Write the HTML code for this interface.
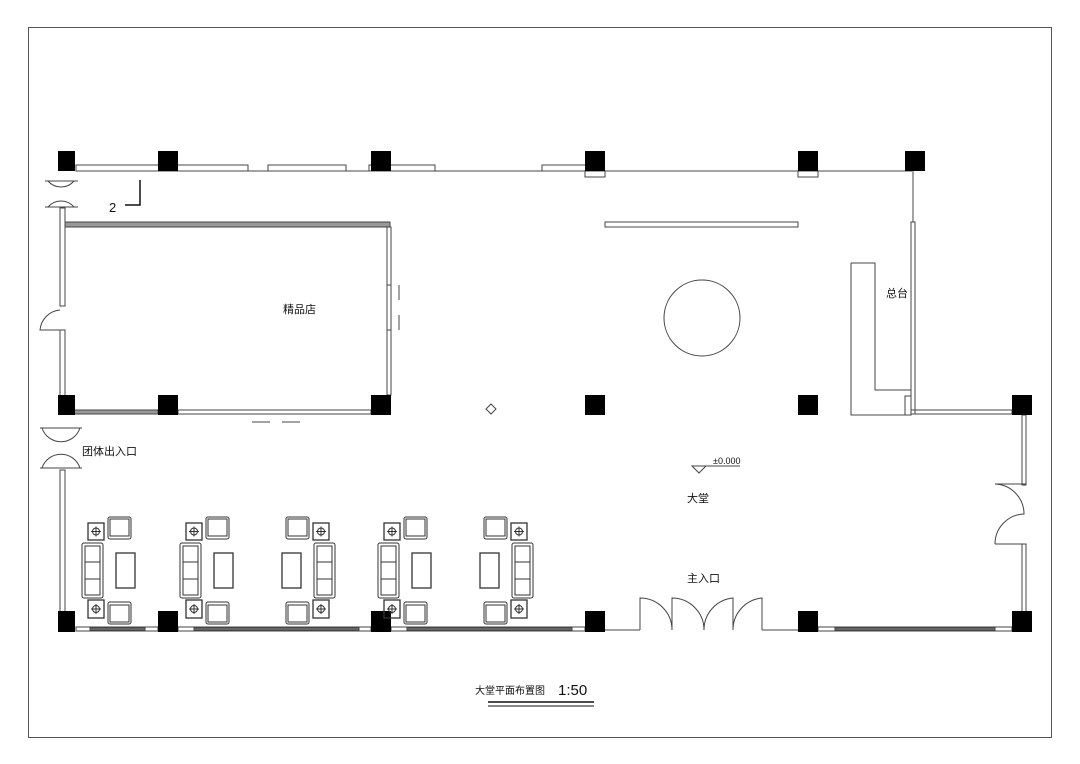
<!DOCTYPE html>
<html><head><meta charset="utf-8"><style>
html,body{margin:0;padding:0;background:#fff;}
svg{display:block;}
text{font-family:"Liberation Sans","Noto Sans CJK SC",sans-serif;fill:#111;}
</style></head><body>
<svg width="1080" height="764" viewBox="0 0 1080 764" xmlns="http://www.w3.org/2000/svg">
<defs>
<g id="grp" fill="none" stroke="#333" stroke-width="1">
  <rect x="0" y="43" width="21" height="55" rx="2"/>
  <rect x="3" y="46" width="15" height="49"/>
  <line x1="3" y1="62" x2="18" y2="62"/><line x1="3" y1="79" x2="18" y2="79"/>
  <rect x="34" y="53" width="19" height="35" stroke-width="1.3"/>
  <rect x="6" y="23" width="16" height="17" stroke-width="1.3"/>
  <rect x="6" y="100" width="16" height="18" stroke-width="1.3"/>
  <circle cx="14" cy="31.5" r="3.5"/><line x1="9" y1="31.5" x2="19" y2="31.5"/><line x1="14" y1="26.5" x2="14" y2="36.5"/>
  <circle cx="14" cy="109" r="3.5"/><line x1="9" y1="109" x2="19" y2="109"/><line x1="14" y1="104" x2="14" y2="114"/>
  <rect x="26" y="17" width="23" height="22" rx="2"/><rect x="28" y="19" width="19" height="17"/>
  <rect x="26" y="102" width="23" height="22" rx="2"/><rect x="28" y="105" width="19" height="17"/>
</g>
</defs>
<rect x="28.5" y="27.5" width="1023" height="710" fill="none" stroke="#555" stroke-width="1"/>

<g fill="none" stroke="#444" stroke-width="1">
<!-- top wall -->
<line x1="76" y1="171" x2="912" y2="171"/>
<rect x="76" y="165" width="172" height="6"/>
<rect x="268" y="165" width="78" height="6"/>
<rect x="369" y="165" width="66" height="6"/>
<rect x="542" y="165" width="50" height="6"/>
<rect x="585" y="171" width="20" height="6"/>
<rect x="798" y="171" width="20" height="6"/>
<!-- left wall -->
<rect x="60" y="208" width="5" height="98"/>
<rect x="60" y="330" width="5" height="66"/>
<rect x="60" y="470" width="5" height="142"/>
<path d="M60 310 A22 22 0 0 0 40 330 L60 330"/>
<path d="M48 181 A17 17 0 0 0 74 181 M48 207 A17 17 0 0 1 74 207 M45 181 L78 181 M45 207 L78 207"/>
<path d="M42 428 A20 20 0 0 0 80 428 M42 468 A20 20 0 0 1 80 468 M40 428 L82 428 M40 468 L82 468"/>
<!-- shop -->
<rect x="65" y="222" width="325" height="5" fill="#999"/>
<rect x="387" y="227" width="4" height="168"/>
<rect x="387" y="285" width="4" height="45" fill="#fff"/>
<rect x="65" y="410" width="93" height="4" fill="#999"/>
<rect x="178" y="410" width="193" height="4"/>
<path d="M399 285 L399 300 M399 315 L399 330"/>
<path d="M252 422 L270 422 M282 422 L300 422"/>
<!-- bar & circle -->
<rect x="605" y="222" width="193" height="5"/>
<circle cx="702" cy="318" r="38"/>
<!-- reception -->
<line x1="913" y1="171" x2="913" y2="222"/>
<rect x="911" y="222" width="4" height="192"/>
<rect x="911" y="410" width="101" height="4"/>
<path d="M851 263 L875 263 L875 390 L911 390 M851 263 L851 415 L911 415 M905 396 L911 396 L911 415 L905 415 Z"/>
<!-- right wall -->
<rect x="1022" y="415" width="4" height="70"/>
<rect x="1022" y="544" width="4" height="68"/>
<path d="M995 484 L1026 484 M995 544 L1026 544 M995 484 A30 30 0 0 1 1024 514 A30 30 0 0 0 995 544"/>
<!-- bottom wall -->
<rect x="76" y="627" width="82" height="4"/><rect x="90" y="628" width="55" height="2" fill="#888"/>
<rect x="178" y="627" width="193" height="4"/><rect x="194" y="628" width="165" height="2" fill="#888"/>
<rect x="391" y="627" width="194" height="4"/><rect x="407" y="628" width="165" height="2" fill="#888"/>
<path d="M605 630 L640 630 M762 630 L798 630"/>
<rect x="818" y="627" width="194" height="4"/><rect x="835" y="628" width="160" height="2" fill="#888"/>
<path d="M640 630 L640 598 A32 32 0 0 1 672 630 L672 598 A32 32 0 0 1 704 630 M704 630 A32 32 0 0 1 733 598 L733 630 A32 32 0 0 1 762 598 L762 630"/>
<!-- elevation -->
<path d="M692 466 L706 466 L699 473 Z M706 466 L740 466"/>
<!-- centre mark -->
<path d="M491 404 L496 409 L491 414 L486 409 Z"/>
<!-- section mark -->
<path d="M140 180 L140 205 L125 205" stroke="#111" stroke-width="1.5"/>
<!-- title underline -->
<line x1="488" y1="702" x2="594" y2="702" stroke="#111" stroke-width="1.5"/>
<line x1="488" y1="706" x2="594" y2="706" stroke="#111" stroke-width="1"/>
</g>

<!-- columns -->
<g fill="#000">
<rect x="58" y="151" width="17" height="20"/><rect x="158" y="151" width="20" height="20"/><rect x="371" y="151" width="20" height="20"/><rect x="585" y="151" width="20" height="20"/><rect x="798" y="151" width="20" height="20"/><rect x="905" y="151" width="20" height="20"/>
<rect x="58" y="395" width="17" height="20"/><rect x="158" y="395" width="20" height="20"/><rect x="371" y="395" width="20" height="20"/><rect x="585" y="395" width="20" height="20"/><rect x="798" y="395" width="20" height="20"/><rect x="1012" y="395" width="20" height="20"/>
<rect x="58" y="611" width="17" height="21"/><rect x="158" y="611" width="20" height="21"/><rect x="371" y="611" width="20" height="21"/><rect x="585" y="611" width="20" height="21"/><rect x="798" y="611" width="20" height="21"/><rect x="1012" y="611" width="20" height="21"/>
</g>

<!-- furniture -->
<use href="#grp" transform="translate(82,500)"/>
<use href="#grp" transform="translate(180,500)"/>
<use href="#grp" transform="translate(335,500) scale(-1,1)"/>
<use href="#grp" transform="translate(378,500)"/>
<use href="#grp" transform="translate(533,500) scale(-1,1)"/>

<!-- labels -->
<text x="283" y="313" font-size="11">精品店</text>
<text x="886" y="297" font-size="11">总台</text>
<text x="82" y="455" font-size="11">团体出入口</text>
<text x="713" y="464" font-size="9">±0.000</text>
<text x="687" y="502" font-size="11">大堂</text>
<text x="687" y="582" font-size="11">主入口</text>
<text x="109" y="212" font-size="13">2</text>
<text x="475" y="694" font-size="10">大堂平面布置图</text>
<text x="558" y="695" font-size="15" fill="#333">1:50</text>
</svg>
</body></html>
